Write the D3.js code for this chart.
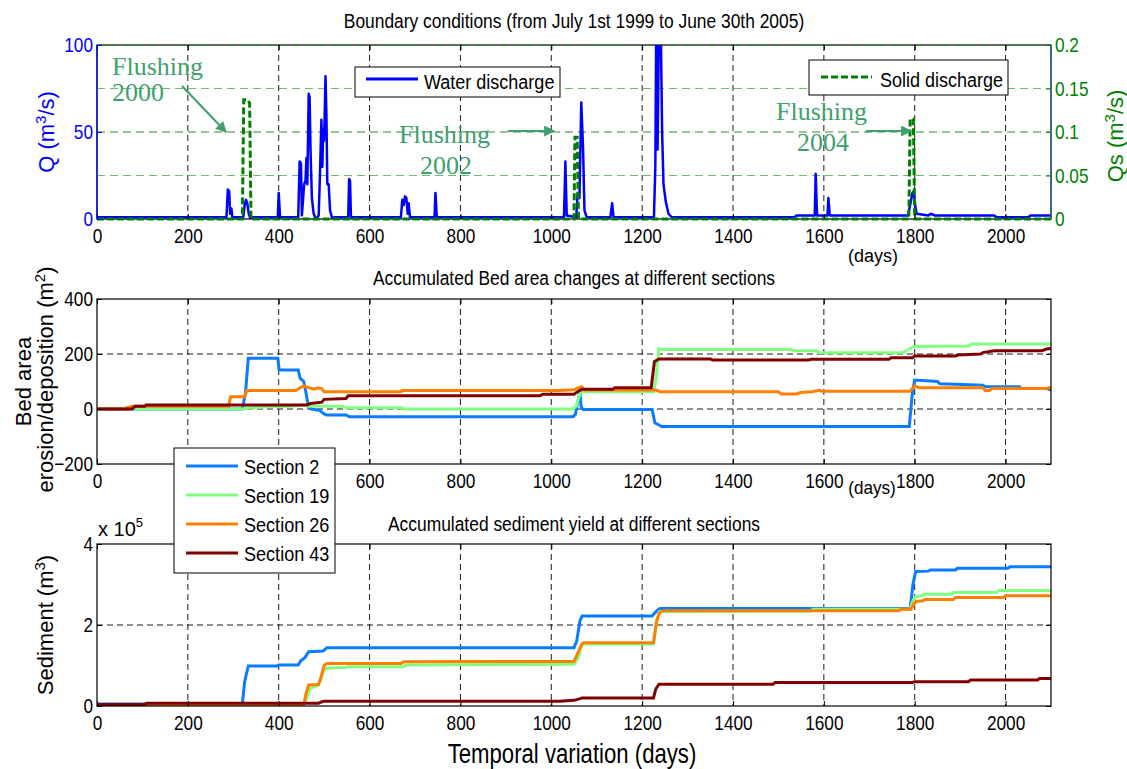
<!DOCTYPE html>
<html>
<head>
<meta charset="utf-8">
<script src="https://cdn.jsdelivr.net/npm/d3@7"></script>
<style>
  body { margin: 0; background: #fff; }
  svg { display: block; }
  svg text { font-family: "Liberation Sans", Arial, sans-serif; }
</style>
</head>
<body>
<script>
//////////////// Variables ////////////////////
var W = 1127, H = 769;
var plotLeft = 97, plotRight = 1051;
var topPanel = {top: 45, bottom: 219},
  midPanel = {top: 299, bottom: 464},
  botPanel = {top: 544, bottom: 706};

//////////////// Ticks ////////////////////
var xTicks = [0, 200, 400, 600, 800, 1000, 1200, 1400, 1600, 1800, 2000];
var qTicks = [0, 50, 100];
var qsTicks = [0, 0.05, 0.1, 0.15, 0.2];
var bedTicks = [-200, 0, 200, 400];
var sedTicks = [0, 2, 4];

//////////////// Datas: boundary conditions ////////////////////
// water discharge Q (m3/s), [day, value]
var waterDischarge = [
  [0,1],[285,1],[288,17],[291,16],[293,3],[296,6],[298,1],
  [322,1],[325,8],[328,11],[331,9],[334,3],[338,0],[342,1],
  [398,1],[400,15],[403,1],
  [443,1],[446,33],[449,32],[451,2],[456,20],[459,22],[461,35],[463,20],[466,72],[468,70],[470,40],[473,12],[477,3],[482,0],
  [488,2],[491,27],[494,57],[496,30],[498,52],[500,45],[503,82],[505,60],[507,20],[510,20],[513,5],[518,0],
  [522,1],[553,1],[555,23],[557,22],[559,1],
  [669,1],[672,11],[675,8],[678,13],[681,12],[684,3],[686,9],[689,1],
  [743,1],[745,15],[748,1],
  [1028,1],[1031,33],[1034,2],[1055,1],[1058,15],[1062,12],[1066,67],[1070,40],[1073,5],[1078,1],
  [1130,1],[1134,9],[1137,1],
  [1226,1],[1229,30],[1231,110],[1234,40],[1237,110],[1241,110],[1244,50],[1247,20],[1252,10],[1258,3],[1265,1],
  [1535,1],[1540,2],[1580,2],[1582,26],[1585,2],[1608,2],[1610,12],[1613,2],
  [1785,2],[1790,8],[1795,15],[1798,16],[1801,8],[1804,3],[1830,2],[1835,3],[1845,2],
  [1975,2],[1980,1],[2050,1],[2055,2],[2100,2]
];
// solid discharge Qs (m3/s)
var solidDischarge = [
  [0,0],[320,0],[323,0.137],[332,0.137],[336,0.133],[339,0],
  [1050,0],[1052,0.094],[1057,0.094],[1060,0],
  [1787,0],[1790,0.115],[1797,0.115],[1800,0],[2100,0]
];

//////////////// Datas: bed area changes (m2) ////////////////////
var bedSec2 = [
  [0,0],[320,0],[327,60],[333,185],[398,185],[401,142],[443,142],[447,112],[455,100],[460,60],[465,10],[472,0],
  [490,-5],[500,-18],[506,-22],[549,-22],[555,-28],[1048,-28],[1053,-20],[1060,40],[1063,60],[1066,5],[1070,-2],
  [1222,-2],[1228,-50],[1243,-64],[1788,-64],[1795,60],[1800,105],[1850,100],[1855,92],[1890,90],[1950,86],
  [1955,81],[2030,81],[2035,75],[2090,75],[2100,69]
];
var bedSec19 = [
  [0,0],[320,0],[330,3],[370,8],[430,10],[455,15],[465,10],[540,10],[548,5],[670,5],[675,0],[1048,0],
  [1055,10],[1063,55],[1068,63],[1225,63],[1230,100],[1237,220],[1245,216],[1528,216],[1535,212],[1584,212],
  [1590,205],[1775,205],[1782,212],[1798,227],[1918,229],[1925,236],[2100,236]
];
var bedSec26 = [
  [0,0],[60,0],[65,5],[80,10],[290,10],[294,45],[325,45],[330,67],[438,67],[448,78],[455,84],[462,80],[478,72],
  [485,76],[494,75],[500,63],[668,63],[673,67],[1018,67],[1050,70],[1060,78],[1067,81],[1072,69],[1230,69],
  [1240,63],[1500,63],[1506,55],[1540,55],[1548,60],[1574,63],[1590,68],[1595,65],[1790,65],[1800,84],[1810,77],
  [1950,77],[1955,67],[1965,67],[1970,75],[2090,75],[2100,79]
];
var bedSec43 = [
  [0,0],[77,0],[84,10],[105,10],[108,15],[462,15],[470,20],[495,25],[500,35],[548,38],[553,48],[975,48],[981,54],
  [1050,54],[1060,65],[1068,72],[1135,72],[1140,77],[1220,77],[1227,172],[1237,182],[1350,182],[1355,178],
  [1567,178],[1572,181],[1743,181],[1748,186],[1795,186],[1800,193],[1890,193],[1895,196],[1945,200],[1950,205],
  [1975,212],[2080,212],[2090,218],[2100,220]
];

//////////////// Datas: sediment yield (x 1e5 m3) ////////////////////
var sedSec2 = [
  [0,0.05],[320,0.05],[325,0.6],[333,0.99],[397,0.99],[400,1.01],[443,1.01],[448,1.11],[458,1.2],[466,1.34],
  [498,1.36],[506,1.44],[1050,1.44],[1056,1.6],[1063,2.1],[1068,2.22],[1222,2.22],[1228,2.3],[1235,2.38],
  [1240,2.41],[1790,2.41],[1796,3.0],[1802,3.32],[1830,3.33],[1834,3.36],[1890,3.36],[1894,3.4],[2005,3.4],
  [2010,3.44],[2100,3.44]
];
var sedSec19 = [
  [0,0.03],[455,0.03],[462,0.2],[470,0.44],[485,0.5],[492,0.63],[500,0.9],[506,0.93],[548,0.95],[552,0.97],
  [675,0.97],[680,1.01],[1050,1.03],[1060,1.2],[1066,1.45],[1070,1.53],[1225,1.53],[1232,2.1],[1238,2.33],
  [1570,2.34],[1576,2.39],[1790,2.39],[1796,2.6],[1802,2.7],[1815,2.72],[1820,2.76],[1880,2.76],[1885,2.8],
  [1980,2.8],[1985,2.85],[2100,2.85]
];
var sedSec26 = [
  [0,0.03],[455,0.03],[460,0.3],[466,0.52],[488,0.53],[494,0.75],[500,1.0],[506,1.05],[670,1.05],[675,1.09],
  [1050,1.1],[1058,1.3],[1066,1.5],[1070,1.56],[1225,1.56],[1232,2.1],[1238,2.29],[1245,2.35],[1765,2.35],
  [1770,2.39],[1792,2.39],[1798,2.52],[1803,2.58],[1818,2.6],[1822,2.63],[1885,2.63],[1890,2.68],[1995,2.68],
  [2000,2.72],[2100,2.72]
];
var sedSec43 = [
  [0,0.04],[105,0.04],[110,0.07],[488,0.07],[494,0.1],[500,0.12],[1018,0.12],[1050,0.14],[1060,0.17],[1068,0.2],
  [1225,0.2],[1230,0.42],[1237,0.54],[1488,0.54],[1493,0.58],[1795,0.58],[1800,0.6],[1918,0.6],[1923,0.64],
  [2070,0.64],[2075,0.68],[2100,0.68]
];

var sectionNames = ["Section 2", "Section 19", "Section 26", "Section 43"];
var sectionColors = ["#0a7cff", "#80ff80", "#ff8000", "#800000"];
var bedSeries = [bedSec2, bedSec19, bedSec26, bedSec43];
var sedSeries = [sedSec2, sedSec19, sedSec26, sedSec43];

var annotations = [
  {lines: ["Flushing", "2000"], x: [112, 112], y: [75, 101], arrow: [[182, 86], [226, 132]]},
  {lines: ["Flushing", "2002"], x: [399, 420], y: [143, 174], arrow: [[508, 131], [554, 131]]},
  {lines: ["Flushing", "2004"], x: [776, 797], y: [120, 151], arrow: [[866, 131], [911, 131]]}
];

//////////////// SVG ////////////////////
var svg = d3.select("body").append("svg")
  .attr("width", W)
  .attr("height", H);

var defs = svg.append("defs");
defs.append("marker")
  .attr("id", "arrowhead")
  .attr("viewBox", "0 0 10 10")
  .attr("refX", 9).attr("refY", 5)
  .attr("markerWidth", 7).attr("markerHeight", 5.5)
  .attr("markerUnits", "strokeWidth")
  .attr("orient", "auto")
  .append("path")
    .attr("d", "M0,0L10,5L0,10Z")
    .attr("fill", "#3f9f6f");

// the original uses a condensed Helvetica; squeeze the glyphs to get close
function squeeze(sel, f) {
  sel.each(function() {
    var w = this.getComputedTextLength();
    d3.select(this).attr("textLength", w * f).attr("lengthAdjust", "spacingAndGlyphs");
  });
}

///////////////////////// Scaling /////////////////////////
var xScale = d3.scaleLinear().domain([0, 2100]).range([plotLeft, plotRight]);
var qScale = d3.scaleLinear().domain([0, 100]).range([topPanel.bottom, topPanel.top]);
var qsScale = d3.scaleLinear().domain([0, 0.2]).range([topPanel.bottom, topPanel.top]);
var bedScale = d3.scaleLinear().domain([-200, 400]).range([midPanel.bottom, midPanel.top]);
var sedScale = d3.scaleLinear().domain([0, 4]).range([botPanel.bottom, botPanel.top]);

function clipFor(id, panel) {
  defs.append("clipPath").attr("id", id)
    .append("rect")
    .attr("x", plotLeft).attr("y", panel.top)
    .attr("width", plotRight - plotLeft).attr("height", panel.bottom - panel.top);
}
clipFor("clipTop", topPanel);
clipFor("clipMid", midPanel);
clipFor("clipBot", botPanel);

// vertical dashed grid
function vGrid(panel) {
  svg.append("g").selectAll("line")
    .data(xTicks.filter(function(d){ return d > 0; }))
    .enter().append("line")
    .attr("x1", function(d){ return xScale(d); })
    .attr("x2", function(d){ return xScale(d); })
    .attr("y1", panel.top).attr("y2", panel.bottom)
    .attr("stroke", "#000").attr("stroke-width", 0.9)
    .attr("stroke-dasharray", "6,4");
}

// x axis with inward ticks, labels below
function xAxisFor(panel, hidden) {
  hidden = hidden || [];
  var g = svg.append("g")
    .attr("transform", "translate(0," + panel.bottom + ")")
    .call(d3.axisBottom(xScale).tickValues(xTicks).tickSizeInner(-5).tickSizeOuter(0).tickPadding(9)
      .tickFormat(d3.format("d")));
  g.select(".domain").remove();
  g.attr("font-family", null);
  g.selectAll("text").attr("font-size", 21).attr("fill", "#000")
    .filter(function(d){ return hidden.indexOf(d) >= 0; }).remove();
  squeeze(g.selectAll("text"), 0.82);
  g.selectAll("line").attr("stroke", "#000");
  var gt = svg.append("g")
    .attr("transform", "translate(0," + panel.top + ")")
    .call(d3.axisTop(xScale).tickValues(xTicks).tickSizeInner(-5).tickSizeOuter(0).tickFormat(""));
  gt.select(".domain").remove();
  return g;
}

function yAxisFor(scale, ticks, color) {
  var g = svg.append("g")
    .attr("transform", "translate(" + plotLeft + ",0)")
    .call(d3.axisLeft(scale).tickValues(ticks).tickSizeInner(-5).tickSizeOuter(0).tickPadding(4).tickFormat(d3.format("d")));
  g.select(".domain").remove();
  g.attr("font-family", null);
  g.selectAll("text").attr("font-size", 21).attr("fill", color);
  squeeze(g.selectAll("text"), 0.82);
  g.selectAll("line").attr("stroke", color);
  var gr = svg.append("g")
    .attr("transform", "translate(" + plotRight + ",0)")
    .call(d3.axisRight(scale).tickValues(ticks).tickSizeInner(-5).tickSizeOuter(0).tickFormat(""));
  gr.select(".domain").remove();
  return g;
}

function box(panel, color) {
  svg.append("rect")
    .attr("x", plotLeft).attr("y", panel.top)
    .attr("width", plotRight - plotLeft).attr("height", panel.bottom - panel.top)
    .attr("fill", "none").attr("stroke", color || "#000").attr("stroke-width", 1.2);
}

var line = function(yS) {
  return d3.line()
    .x(function(d){ return xScale(d[0]); })
    .y(function(d){ return yS(d[1]); });
};

function title(txt, y) {
  var t = svg.append("text")
    .attr("x", (plotLeft + plotRight) / 2).attr("y", y)
    .attr("text-anchor", "middle").attr("font-size", 20)
    .text(txt);
  squeeze(t, 0.87);
}

//////////////////////// Panel 1: boundary conditions ////////////////////////
box(topPanel);
vGrid(topPanel);
svg.append("g").selectAll("line")
  .data(qsTicks.filter(function(d){ return d > 0; }))
  .enter().append("line")
  .attr("x1", plotLeft).attr("x2", plotRight)
  .attr("y1", function(d){ return qsScale(d); })
  .attr("y2", function(d){ return qsScale(d); })
  .attr("stroke", function(d, i){ return i % 2 === 0 ? "#6cbf6c" : "#2f912f"; })
  .attr("stroke-width", 1.2)
  .attr("stroke-dasharray", "8,5");

svg.append("path")
  .datum(waterDischarge)
  .attr("clip-path", "url(#clipTop)")
  .attr("d", line(qScale))
  .attr("fill", "none").attr("stroke", "#0000ff").attr("stroke-width", 2.5)
  .attr("stroke-linejoin", "round");

svg.append("path")
  .datum(solidDischarge)
  .attr("d", line(qsScale))
  .attr("fill", "none").attr("stroke", "#008000").attr("stroke-width", 3)
  .attr("stroke-dasharray", "7,3");

xAxisFor(topPanel);
var lAxis = svg.append("g")
  .attr("transform", "translate(" + plotLeft + ",0)")
  .call(d3.axisLeft(qScale).tickValues(qTicks).tickSizeInner(-5).tickSizeOuter(0).tickPadding(4));
lAxis.select(".domain").remove();
lAxis.attr("font-family", null);
lAxis.selectAll("text").attr("font-size", 21).attr("fill", "#0000ff");
squeeze(lAxis.selectAll("text"), 0.82);
lAxis.selectAll("line").attr("stroke", "#0000ff");

var rAxis = svg.append("g")
  .attr("transform", "translate(" + plotRight + ",0)")
  .call(d3.axisRight(qsScale).tickValues(qsTicks).tickSizeInner(-5).tickSizeOuter(0).tickPadding(4)
    .tickFormat(d3.format("")));
rAxis.select(".domain").remove();
rAxis.attr("font-family", null);
rAxis.selectAll("text").attr("font-size", 21).attr("fill", "#008000");
squeeze(rAxis.selectAll("text"), 0.82);
rAxis.selectAll("line").attr("stroke", "#008000");

// coloured axis lines
svg.append("line").attr("x1", plotLeft).attr("x2", plotLeft)
  .attr("y1", topPanel.top).attr("y2", topPanel.bottom)
  .attr("stroke", "#0000ff").attr("stroke-width", 1.2);
svg.append("line").attr("x1", plotRight).attr("x2", plotRight)
  .attr("y1", topPanel.top).attr("y2", topPanel.bottom)
  .attr("stroke", "#2f6a8a").attr("stroke-width", 1.5);

title("Boundary conditions (from  July 1st 1999 to June 30th 2005)", 28);

svg.append("text")
  .attr("transform", "translate(54," + (topPanel.top + topPanel.bottom) / 2 + ") rotate(-90)")
  .attr("text-anchor", "middle").attr("font-size", 22).attr("fill", "#0000ff")
  .html('Q  (m<tspan dy="-8" font-size="15">3</tspan><tspan dy="8">/s)</tspan>');
svg.append("text")
  .attr("transform", "translate(1123," + ((topPanel.top + topPanel.bottom) / 2 + 4) + ") rotate(-90)")
  .attr("text-anchor", "middle").attr("font-size", 22).attr("fill", "#008000")
  .html('Qs  (m<tspan dy="-8" font-size="15">3</tspan><tspan dy="8">/s)</tspan>');

svg.append("text")
  .attr("x", 873).attr("y", 262).attr("text-anchor", "middle").attr("font-size", 18)
  .text("(days)");

// annotations
annotations.forEach(function(a) {
  a.lines.forEach(function(t, i) {
    svg.append("text")
      .attr("x", a.x[i]).attr("y", a.y[i])
      .style("font-family", "'Liberation Serif', 'Times New Roman', serif")
      .attr("font-size", 26).attr("fill", "#3f9f6f")
      .text(t);
  });
  svg.append("line")
    .attr("x1", a.arrow[0][0]).attr("y1", a.arrow[0][1])
    .attr("x2", a.arrow[1][0]).attr("y2", a.arrow[1][1])
    .attr("stroke", "#3f9f6f").attr("stroke-width", 2)
    .attr("marker-end", "url(#arrowhead)");
});

// legends of panel 1
var legW = svg.append("g");
legW.append("rect").attr("x", 355).attr("y", 67).attr("width", 205).attr("height", 30)
  .attr("fill", "#fff").attr("stroke", "#000").attr("stroke-width", 1);
legW.append("line").attr("x1", 366).attr("x2", 418).attr("y1", 79).attr("y2", 79)
  .attr("stroke", "#0000ff").attr("stroke-width", 3);
squeeze(legW.append("text").attr("x", 424).attr("y", 89).attr("font-size", 20).text("Water discharge"), 0.9);

var legS = svg.append("g");
legS.append("rect").attr("x", 809).attr("y", 60).attr("width", 199).attr("height", 35)
  .attr("fill", "#fff").attr("stroke", "#000").attr("stroke-width", 1);
legS.append("line").attr("x1", 821).attr("x2", 872).attr("y1", 77).attr("y2", 77)
  .attr("stroke", "#008000").attr("stroke-width", 3).attr("stroke-dasharray", "7,3");
squeeze(legS.append("text").attr("x", 880).attr("y", 87).attr("font-size", 20).text("Solid discharge"), 0.9);

//////////////////////// Panel 2: bed area ////////////////////////
vGrid(midPanel);
svg.append("g").selectAll("line")
  .data([0, 200])
  .enter().append("line")
  .attr("x1", plotLeft).attr("x2", plotRight)
  .attr("y1", function(d){ return bedScale(d); })
  .attr("y2", function(d){ return bedScale(d); })
  .attr("stroke", "#000").attr("stroke-width", 0.9).attr("stroke-dasharray", "6,4");

bedSeries.forEach(function(s, i) {
  svg.append("path")
    .datum(s)
    .attr("clip-path", "url(#clipMid)")
    .attr("d", line(bedScale))
    .attr("fill", "none").attr("stroke", sectionColors[i]).attr("stroke-width", 3);
});
box(midPanel);
xAxisFor(midPanel, [200, 400]); // those two are hidden by the legend
yAxisFor(bedScale, bedTicks, "#000");
title("Accumulated Bed area changes at different sections", 285);

svg.append("text")
  .attr("transform", "translate(31," + (midPanel.top + midPanel.bottom) / 2 + ") rotate(-90)")
  .attr("text-anchor", "middle").attr("font-size", 22)
  .text("Bed area");
svg.append("text")
  .attr("transform", "translate(53," + ((midPanel.top + midPanel.bottom) / 2 - 2) + ") rotate(-90)")
  .attr("text-anchor", "middle").attr("font-size", 22)
  .html('erosion/deposition  (m<tspan dy="-8" font-size="15">2</tspan><tspan dy="8">)</tspan>');
squeeze(svg.append("text")
  .attr("x", 872).attr("y", 494).attr("text-anchor", "middle").attr("font-size", 19)
  .text("(days)"), 0.9);

//////////////////////// Panel 3: sediment yield ////////////////////////
vGrid(botPanel);
svg.append("line")
  .attr("x1", plotLeft).attr("x2", plotRight)
  .attr("y1", sedScale(2)).attr("y2", sedScale(2))
  .attr("stroke", "#000").attr("stroke-width", 0.9).attr("stroke-dasharray", "6,4");

sedSeries.forEach(function(s, i) {
  svg.append("path")
    .datum(s)
    .attr("clip-path", "url(#clipBot)")
    .attr("d", line(sedScale))
    .attr("fill", "none").attr("stroke", sectionColors[i]).attr("stroke-width", 3);
});
box(botPanel);
xAxisFor(botPanel);
yAxisFor(sedScale, sedTicks, "#000");
title("Accumulated sediment yield at different sections", 531);

svg.append("text")
  .attr("x", 98).attr("y", 536).attr("font-size", 20)
  .html('x 10<tspan dy="-9" font-size="13">5</tspan>');

svg.append("text")
  .attr("transform", "translate(53," + (botPanel.top + botPanel.bottom) / 2 + ") rotate(-90)")
  .attr("text-anchor", "middle").attr("font-size", 22)
  .html('Sediment  (m<tspan dy="-8" font-size="15">3</tspan><tspan dy="8">)</tspan>');

squeeze(svg.append("text")
  .attr("x", (plotLeft + plotRight) / 2 - 2).attr("y", 763)
  .attr("text-anchor", "middle").attr("font-size", 27)
  .text("Temporal variation (days)"), 0.82);

//////////////// Sections legend ///////////////
var leg = svg.append("g");
leg.append("rect").attr("x", 174).attr("y", 448).attr("width", 161).attr("height", 125)
  .attr("fill", "#fff").attr("stroke", "#000").attr("stroke-width", 1);
var legItems = leg.selectAll("g.item")
  .data(sectionNames)
  .enter().append("g")
  .attr("class", "item")
  .attr("transform", function(d, i){ return "translate(0," + (466 + i * 29) + ")"; });
legItems.append("line")
  .attr("x1", 186).attr("x2", 238).attr("y1", 0).attr("y2", 0)
  .attr("stroke", function(d, i){ return sectionColors[i]; }).attr("stroke-width", 3);
squeeze(legItems.append("text")
  .attr("x", 244).attr("y", 8).attr("font-size", 21)
  .text(function(d){ return d; }), 0.86);
</script>
</body>
</html>
